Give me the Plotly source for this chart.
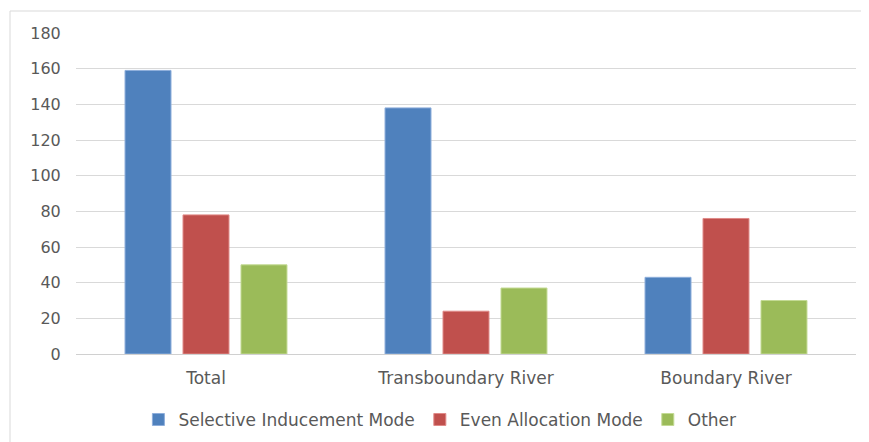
import plotly.graph_objects as go

categories = ["Total", "Transboundary River", "Boundary River"]
selective = [159, 138, 43]
even = [78, 24, 76]
other = [50, 37, 30]
series_names = ["Selective Inducement Mode", "Even Allocation Mode", "Other"]
y_ticks = [0, 20, 40, 60, 80, 100, 120, 140, 160, 180]

colors = ["#4f81bd", "#c0504d", "#9bbb59"]
edge = ["#8eaedb", "#e08a88", "#c3da94"]

fig = go.Figure()
for name, vals, c, e in zip(series_names, [selective, even, other], colors, edge):
    fig.add_trace(go.Bar(x=categories, y=vals, name=name,
                         marker=dict(color=c, line=dict(color=e, width=1))))

font = "DejaVu Sans, sans-serif"
txt = "#595959"
fig.update_layout(
    width=869, height=442,
    margin=dict(l=68, r=21, t=25, b=96, autoexpand=False),
    paper_bgcolor="white", plot_bgcolor="white",
    barmode="group", bargap=0.331, bargroupgap=0.207,
    font=dict(family=font, size=16, color=txt),
    showlegend=True,
    legend=dict(orientation="h", xref="container", yref="container",
                x=0.497, xanchor="center", y=0.068, yanchor="middle",
                font=dict(size=17, color=txt), itemwidth=30,
                traceorder="normal"),
    xaxis=dict(showgrid=False, showline=False, ticks="outside", ticklen=9,
               tickcolor="rgba(0,0,0,0)", automargin=False,
               tickfont=dict(size=17, color=txt)),
    yaxis=dict(range=[0, 180], tickvals=y_ticks, showgrid=True, gridcolor="#d9d9d9",
               gridwidth=1, zeroline=True, zerolinecolor="#d0d0d0", zerolinewidth=1,
               ticks="outside", ticklen=11, tickcolor="rgba(0,0,0,0)", automargin=False,
               tickfont=dict(size=16, color=txt)),
    shapes=[dict(type="rect", xref="paper", yref="paper",
                 x0=-0.0846, x1=1.014, y0=-0.30, y1=1.0685,
                 line=dict(color="#d9d9d9", width=1), fillcolor="rgba(0,0,0,0)",
                 layer="below")],
)

fig.write_html("out.html")
